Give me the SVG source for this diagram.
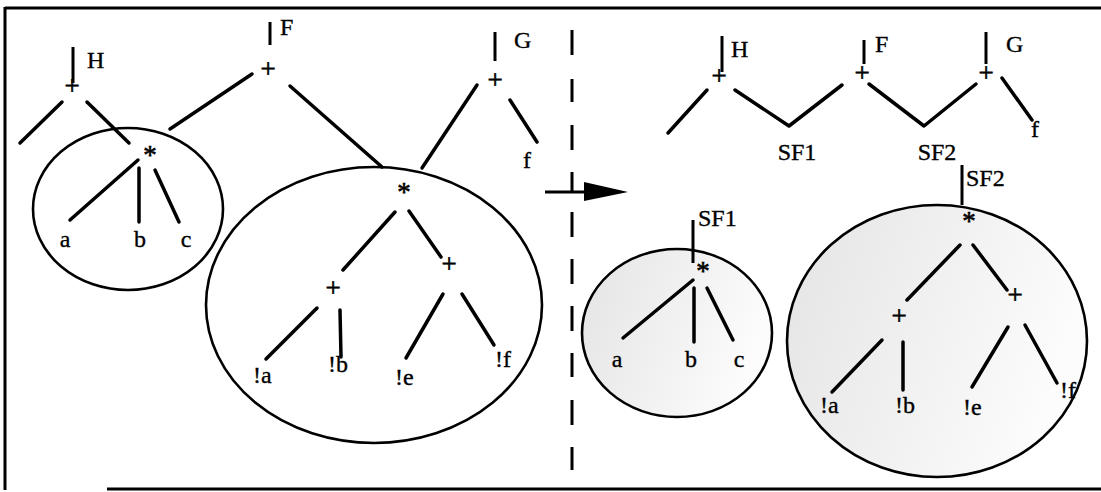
<svg xmlns="http://www.w3.org/2000/svg" width="1101" height="492" viewBox="0 0 1101 492">
<style>
text{font-family:"Liberation Serif","Times New Roman",serif;font-size:24px;fill:#000;stroke:#000;stroke-width:0.35}
.m{text-anchor:middle}
.o{font-size:27px;stroke-width:0.6}
.e{fill:none;stroke:#000;stroke-width:2.6}
.s{stroke:#000;stroke-width:3}
.c line{stroke:#000;stroke-width:3.5;stroke-linecap:round}
.t{stroke:#000;stroke-width:3}
</style>
<defs>
<linearGradient id="shade" x1="0" y1="0" x2="1" y2="0.3">
<stop offset="0" stop-color="#e4e4e4"/>
<stop offset="0.6" stop-color="#f2f2f2"/>
<stop offset="1" stop-color="#fcfcfc"/>
</linearGradient>
</defs>
<rect width="1101" height="492" fill="#fff"/>
<g id="frame">
<line class="s" x1="5" y1="8" x2="1101" y2="8"/>
<line class="s" x1="5" y1="7" x2="5" y2="490"/>
<line class="s" x1="107" y1="489" x2="1101" y2="489"/>
</g>
<g id="divider">
<path class="s" d="M572 30V55M572 79V102M572 125V150M572 172V192M572 212V237M572 259V284M572 306V331M572 353V377M572 400V425M572 447V470"/>
<line class="s" x1="545" y1="192" x2="592" y2="192"/>
<polygon points="584,182 628,192 584,201" fill="#000"/>
</g>
<g id="regions">
<ellipse id="left-small" class="e" cx="128" cy="209" rx="95" ry="81"/>
<ellipse id="left-big" class="e" cx="374" cy="305" rx="168" ry="138"/>
<ellipse id="right-small" class="e" cx="677" cy="333" rx="95" ry="84" style="fill:url(#shade)"/>
<ellipse id="right-big" class="e" cx="937" cy="341" rx="150" ry="136" style="fill:url(#shade)"/>
</g>
<g id="connectors" class="c">
<line x1="62" y1="102" x2="20" y2="143"/>
<line x1="87" y1="102" x2="129" y2="143"/>
<line x1="252" y1="74" x2="170" y2="129"/>
<line x1="290" y1="86" x2="382" y2="167"/>
<line x1="477" y1="85" x2="422" y2="168"/>
<line x1="510" y1="100" x2="537" y2="142"/>
<line x1="138" y1="160" x2="70" y2="220"/>
<line x1="139" y1="168" x2="139" y2="222"/>
<line x1="155" y1="170" x2="179" y2="222"/>
<line x1="395" y1="212" x2="343" y2="270"/>
<line x1="409" y1="211" x2="441" y2="257"/>
<line x1="317" y1="308" x2="266" y2="359"/>
<line x1="340" y1="310" x2="341" y2="357"/>
<line x1="443" y1="294" x2="406" y2="358"/>
<line x1="462" y1="294" x2="494" y2="345"/>
<line x1="707" y1="90" x2="668" y2="133"/>
<polyline points="735,90 789,126 842,85" fill="none" stroke="#000" stroke-width="3.5" stroke-linecap="round" stroke-linejoin="round"/>
<polyline points="869,84 924,126 976,84" fill="none" stroke="#000" stroke-width="3.5" stroke-linecap="round" stroke-linejoin="round"/>
<line x1="1002" y1="78" x2="1032" y2="120"/>
<line x1="693" y1="280" x2="623" y2="338"/>
<line x1="694" y1="288" x2="694" y2="342"/>
<line x1="707" y1="288" x2="733" y2="340"/>
<line x1="960" y1="245" x2="907" y2="300"/>
<line x1="973" y1="245" x2="1007" y2="290"/>
<line x1="882" y1="340" x2="832" y2="392"/>
<line x1="903" y1="342" x2="903" y2="390"/>
<line x1="1008" y1="327" x2="972" y2="387"/>
<line x1="1025" y1="325" x2="1057" y2="383"/>
</g>
<g id="n-H-left"><line class="t" x1="73" y1="47" x2="73" y2="83"/><text x="87" y="68">H</text><text class="m o" x="72" y="95">+</text></g>
<g id="n-F-left"><line class="t" x1="270" y1="22" x2="270" y2="45"/><text x="280" y="35">F</text><text class="m o" x="268" y="78">+</text></g>
<g id="n-G-left"><line class="t" x1="495" y1="32" x2="495" y2="61"/><text x="514" y="48">G</text><text class="m o" x="495" y="89">+</text></g>
<g id="n-f-left"><text class="m" x="527" y="168">f</text></g>
<g id="n-star1-left"><text class="m o" x="150" y="164">*</text></g>
<g id="n-a-left"><text class="m" x="65" y="247">a</text></g>
<g id="n-b-left"><text class="m" x="140" y="247">b</text></g>
<g id="n-c-left"><text class="m" x="186" y="247">c</text></g>
<g id="n-star2-left"><text class="m o" x="404" y="201">*</text></g>
<g id="n-plus1-left"><text class="m o" x="333" y="297">+</text></g>
<g id="n-plus2-left"><text class="m o" x="449" y="273">+</text></g>
<g id="n-na-left"><text x="253" y="383">!a</text></g>
<g id="n-nb-left"><text x="328" y="372">!b</text></g>
<g id="n-ne-left"><text x="395" y="385">!e</text></g>
<g id="n-nf-left"><text x="495" y="367">!f</text></g>
<g id="n-H-right"><line class="t" x1="722" y1="36" x2="722" y2="72"/><text x="731" y="57">H</text><text class="m o" x="719" y="85">+</text></g>
<g id="n-F-right"><line class="t" x1="864" y1="40" x2="864" y2="64"/><text x="875" y="52">F</text><text class="m o" x="862" y="82">+</text></g>
<g id="n-G-right"><line class="t" x1="986" y1="32" x2="986" y2="64"/><text x="1006" y="52">G</text><text class="m o" x="986" y="82">+</text></g>
<g id="n-f-right"><text class="m" x="1035" y="137">f</text></g>
<g id="n-SF1-top"><text class="m" x="797" y="160">SF1</text></g>
<g id="n-SF2-top"><text class="m" x="937" y="160">SF2</text></g>
<g id="n-SF1-root"><line class="t" x1="693" y1="220" x2="693" y2="263"/><text x="698" y="226">SF1</text></g>
<g id="n-star1-right"><text class="m o" x="703" y="280">*</text></g>
<g id="n-a-right"><text class="m" x="617" y="367">a</text></g>
<g id="n-b-right"><text class="m" x="691" y="367">b</text></g>
<g id="n-c-right"><text class="m" x="739" y="367">c</text></g>
<g id="n-SF2-root"><line class="t" x1="962" y1="165" x2="962" y2="205"/><text x="966" y="186">SF2</text></g>
<g id="n-star2-right"><text class="m o" x="969" y="230">*</text></g>
<g id="n-plus1-right"><text class="m o" x="899" y="325">+</text></g>
<g id="n-plus2-right"><text class="m o" x="1015" y="304">+</text></g>
<g id="n-na-right"><text x="820" y="413">!a</text></g>
<g id="n-nb-right"><text x="895" y="413">!b</text></g>
<g id="n-ne-right"><text x="963" y="415">!e</text></g>
<g id="n-nf-right"><text x="1060" y="398">!f</text></g>
</svg>
